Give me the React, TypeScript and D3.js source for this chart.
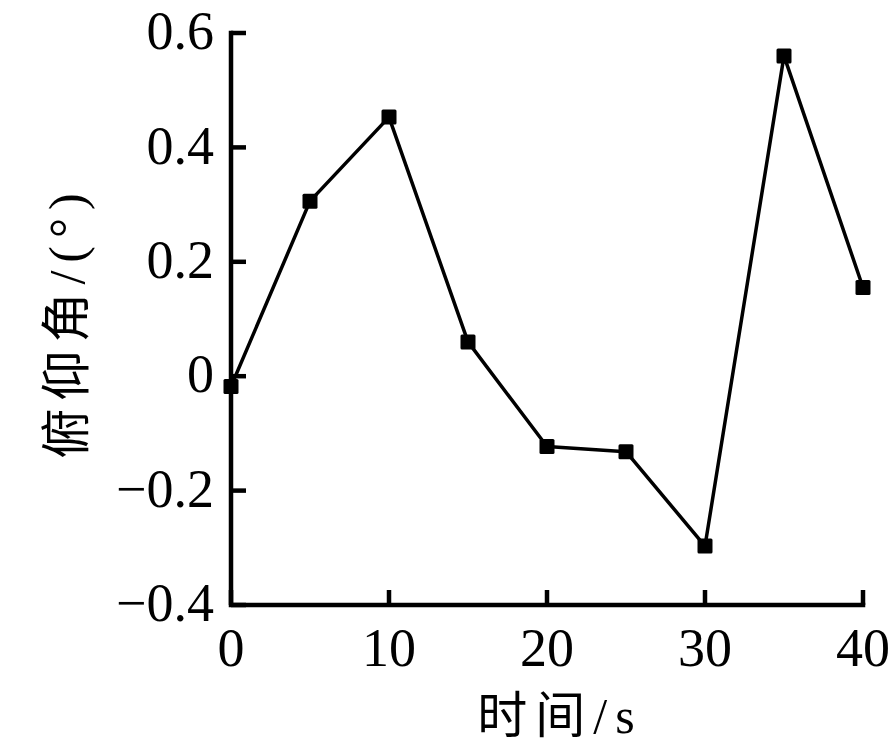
import React from "react";
import * as d3 from "d3";

const times: number[] = [0, 5, 10, 15, 20, 25, 30, 35, 40];
const pitch: number[] = [-0.018, 0.306, 0.453, 0.06, -0.123, -0.132, -0.297, 0.56, 0.155];
const xTicks: number[] = [0, 10, 20, 30, 40];
const yTicks: number[] = [-0.4, -0.2, 0, 0.2, 0.4, 0.6];
const xTitle = "时间/s";
const yTitle = "俯仰角/(°)";

const W = 894;
const H = 748;
const FONT = "'Liberation Serif', 'Noto Sans CJK SC', serif";

export default function App() {
  const x = d3.scaleLinear().domain([0, 40]).range([231, 863]);
  const y = d3.scaleLinear().domain([-0.4, 0.6]).range([605, 33]);
  const line = d3
    .line<number>()
    .x((_, i) => x(times[i]))
    .y((d) => y(d));
  const pts = pitch.map((v, i) => [x(times[i]), y(v)]);
  const fmt = (v: number) => (v < 0 ? "\u2212" + Math.abs(v).toFixed(1) : v === 0 ? "0" : v.toFixed(1));
  const tickLen = 15;
  const ms = 15;
  return (
    <svg
      width={W}
      height={H}
      style={{ position: "absolute", left: 0, top: 0, background: "#fff" }}
      fontFamily={FONT}
    >
      <rect x={0} y={0} width={W} height={H} fill="#fff" />
      <path
        d={`M${x(0)},${y(0.6)} V${y(-0.4)} H${x(40)}`}
        fill="none"
        stroke="#000"
        strokeWidth={4.5}
        strokeLinecap="square"
      />
      {yTicks.map((t) => (
        <g key={"y" + t}>
          <line x1={x(0)} x2={x(0) + tickLen} y1={y(t)} y2={y(t)} stroke="#000" strokeWidth={4.5} />
          <text x={214} y={y(t)} dy="0.3em" textAnchor="end" fontSize={54} fill="#000">
            {fmt(t)}
          </text>
        </g>
      ))}
      {xTicks.map((t) => (
        <g key={"x" + t}>
          <line x1={x(t)} x2={x(t)} y1={y(-0.4)} y2={y(-0.4) - tickLen} stroke="#000" strokeWidth={4.5} />
          <text x={x(t)} y={666} textAnchor="middle" fontSize={54} fill="#000">
            {t}
          </text>
        </g>
      ))}
      <path d={line(pitch) || ""} fill="none" stroke="#000" strokeWidth={3.5} strokeLinejoin="round" />
      {pts.map(([px, py], i) => (
        <rect key={i} x={px - ms / 2} y={py - ms / 2} width={ms} height={ms} rx={1.5} fill="#000" />
      ))}
      <text x={560} y={733} textAnchor="middle" fontSize={50} letterSpacing={8} fill="#000">
        {xTitle}
      </text>
      <text
        transform={`translate(84, 322) rotate(-90)`}
        textAnchor="middle"
        fontSize={50}
        letterSpacing={8}
        fill="#000"
      >
        {yTitle}
      </text>
    </svg>
  );
}
